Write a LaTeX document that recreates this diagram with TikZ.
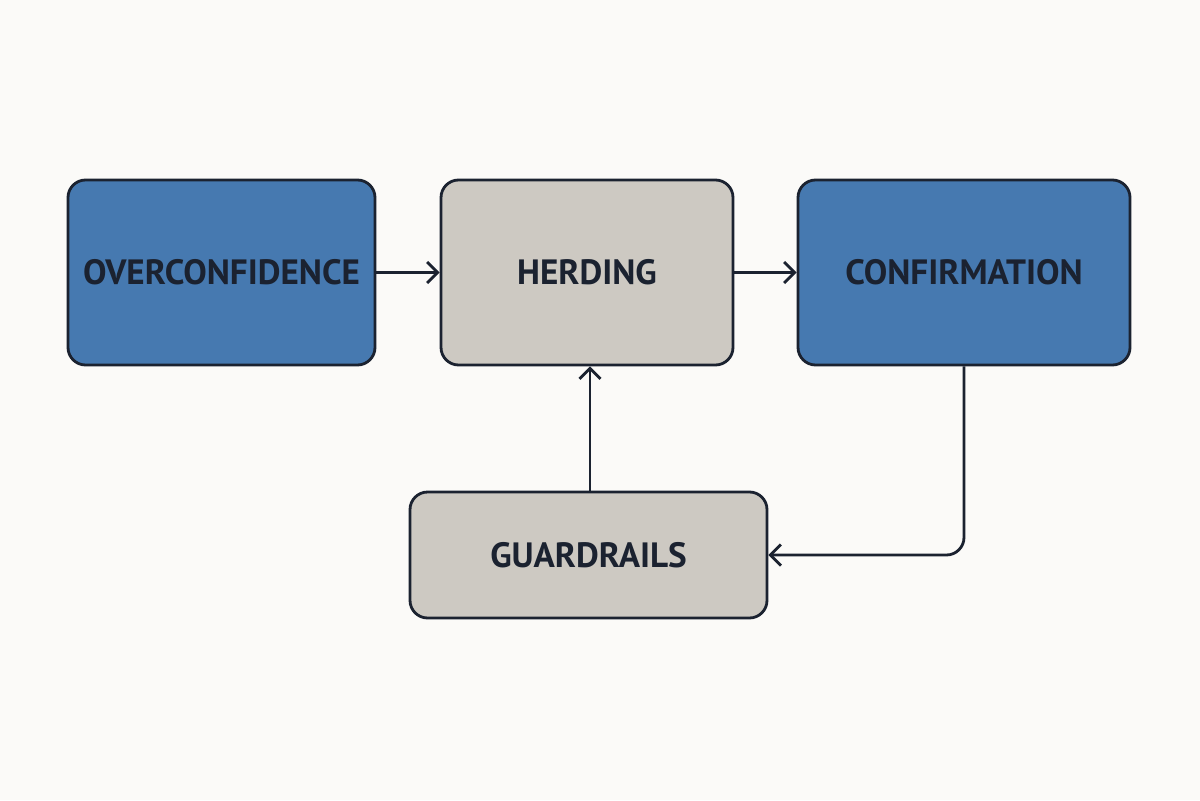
\documentclass[tikz,border=0pt]{standalone}
\usepackage{fontspec}
\setmainfont{PT Sans}
\usetikzlibrary{positioning, arrows.meta}
\definecolor{bluebox}{HTML}{4679B0}
\definecolor{graybox}{HTML}{CDC9C2}
\definecolor{ink}{HTML}{1B2230}
\definecolor{paper}{HTML}{FBFAF8}
\tikzset{
box/.style={draw=ink, line width=1.6pt, rounded corners=10pt, minimum height=3.7cm, text=ink, font=\fontsize{20}{24}\selectfont\bfseries}, % common box look
blue box/.style={box, fill=bluebox},
gray box/.style={box, fill=graybox},
link/.style={draw=ink, line width=1.6pt, -{Straight Barb[length=6pt,width=12pt]}},
}
\begin{document}
\begin{tikzpicture}
        \fill[paper] (0,0) rectangle (24,-16);
        \useasboundingbox (0,0) rectangle (24,-16);
        \node[blue box, minimum width=6.14cm] (over) at (4.43,-5.45) {OVERCONFIDENCE};
        \node[gray box, minimum width=5.84cm] (herd) at (11.74,-5.45) {HERDING};
        \node[blue box, minimum width=6.64cm] (conf) at (19.28,-5.45) {CONFIRMATION};
        \node[gray box, minimum width=7.14cm, minimum height=2.52cm] (guard) at (11.77,-11.1) {GUARDRAILS};

        \draw[link] (over) -- (herd);
        \draw[link] (herd) -- (conf);
        \draw[link] (guard.north -| 11.8,0) -- (herd.south -| 11.8,0);
        \draw[link, rounded corners=10pt] (conf.south) |- (guard.east);
\end{tikzpicture}
\end{document}
